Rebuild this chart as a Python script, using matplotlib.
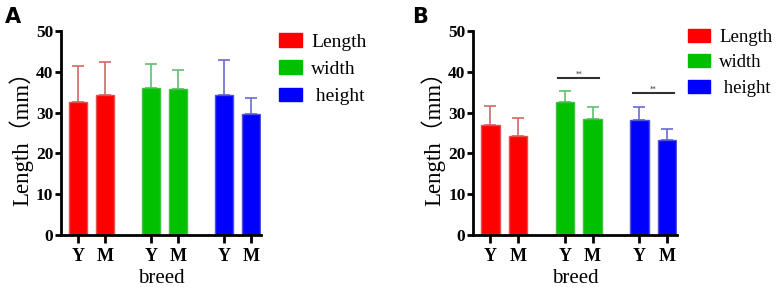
import numpy as np
import matplotlib.pyplot as plt
from matplotlib.patches import Patch

# data
groups = ["Length", "width", " height"]
ticklabels = ["Y", "M", "Y", "M", "Y", "M"]
mean_a = [32.7, 34.2, 36.0, 35.8, 34.2, 29.6]
err_a = [8.8, 8.2, 6.0, 4.6, 8.7, 4.0]
mean_b = [27.0, 24.2, 32.7, 28.5, 28.2, 23.2]
err_b = [4.6, 4.6, 2.6, 2.8, 3.2, 2.7]
# significance brackets in B: (bar i, bar j, height, text)
sig_b = [(2, 3, 38.5, "**"), (4, 5, 34.7, "**")]

fills = ["#ff0000", "#ff0000", "#00c000", "#00c000", "#0000ff", "#0000ff"]
edges = ["#e05050", "#e05050", "#40c040", "#40c040", "#5050e0", "#5050e0"]
errc = ["#d06a6a", "#d06a6a", "#60c070", "#60c070", "#6a6ad0", "#6a6ad0"]
legc = ["#ff0000", "#00c000", "#0000ff"]

serif = "Liberation Serif"
xpos = np.array([0, 1, 2.7, 3.7, 5.4, 6.4])

fig = plt.figure(figsize=(7.82, 2.87), dpi=100)
axA = fig.add_axes([0.078, 0.181, 0.256, 0.711])
axB = fig.add_axes([0.605, 0.181, 0.261, 0.711])


def draw(ax, means, errs):
    for i in range(6):
        ax.bar(xpos[i], means[i], width=0.67, color=fills[i], edgecolor=edges[i], linewidth=1, zorder=2)
        ax.errorbar(xpos[i], means[i], yerr=[[0], [errs[i]]], ecolor=errc[i], elinewidth=1.2,
                    capsize=4, capthick=1.2, fmt="none", zorder=1)
    ax.set_xlim(-0.63, 6.77)
    ax.set_ylim(0, 50)
    ax.set_yticks([0, 10, 20, 30, 40, 50])
    ax.set_xticks(xpos)
    ax.set_xticklabels(ticklabels, fontfamily=serif, fontweight="bold", fontsize=13)
    for lab in ax.get_yticklabels():
        lab.set_fontfamily(serif)
        lab.set_fontweight("bold")
        lab.set_fontsize(12.5)
    ax.spines["top"].set_visible(False)
    ax.spines["right"].set_visible(False)
    ax.spines["left"].set_linewidth(2)
    ax.spines["bottom"].set_linewidth(2)
    ax.tick_params(axis="y", width=2, length=4, pad=1.5)
    ax.tick_params(axis="x", width=2, length=6, pad=3)
    ax.set_xlabel("breed", fontfamily=serif, fontsize=15, labelpad=3)
    ax.set_ylabel("Length（mm）", family=[serif, "Noto Sans CJK SC"], fontsize=16.5, labelpad=2)


draw(axA, mean_a, err_a)
draw(axB, mean_b, err_b)

for i, j, h, t in sig_b:
    axB.plot([xpos[i] - 0.25, xpos[j] + 0.25], [h, h], color="#303030", lw=1.5)
    axB.text((xpos[i] + xpos[j]) / 2, h + 0.3, t, ha="center", va="bottom", fontsize=5, color="#303030")

handles = [Patch(facecolor=c, edgecolor=c) for c in legc]
for ax, xy, fs, ls in [(axA, (0.357, 0.885), 14, 0.5), (axB, (0.880, 0.90), 13.5, 0.45)]:
    fig.legend(handles, groups, loc="upper left", bbox_to_anchor=xy, frameon=False,
               prop={"family": serif, "size": fs}, handlelength=1.15, handleheight=0.7,
               handletextpad=0.5, labelspacing=ls, borderaxespad=0, borderpad=0)

fig.text(0.006, 0.975, "A", fontsize=15, fontweight="bold", va="top")
fig.text(0.527, 0.975, "B", fontsize=15, fontweight="bold", va="top")

fig.savefig("out.png", dpi=100)
